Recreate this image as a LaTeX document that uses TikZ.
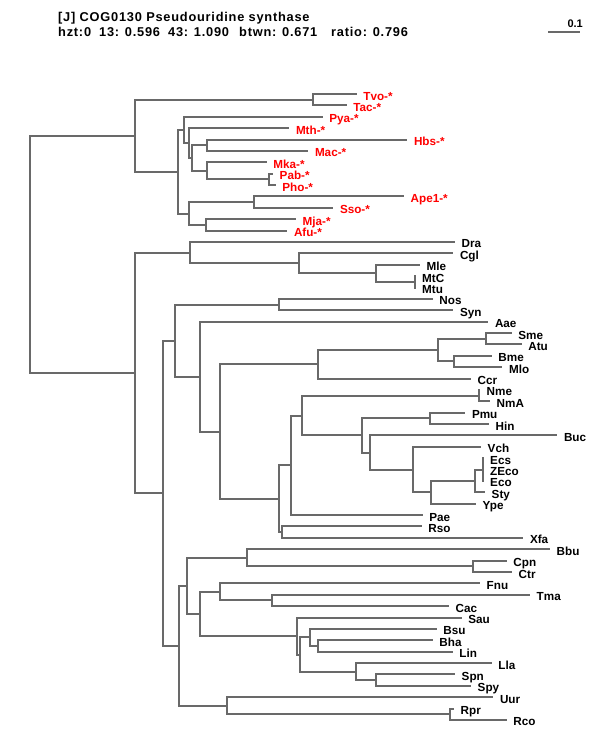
\documentclass[tikz,border=0pt]{standalone}
\usepackage{fontspec}
\setmainfont{Liberation Sans}
\newfontfamily\headfont[LetterSpace=6]{Liberation Sans}
\usetikzlibrary{positioning}
\definecolor{branchgray}{RGB}{105,105,105}
\tikzset{
  branch/.style = {draw=branchgray, line width=2pt},
  every edge/.style = {branch, to path={|- (\tikztotarget)}},
  leaf/.style = {anchor=west, inner xsep=6.5pt, inner ysep=0pt,
    text height=12pt, text depth=0pt,
    font=\bfseries\fontsize{11.7}{12}\selectfont},
  arch/.style = {leaf, text=red},
  head/.style = {anchor=base west, inner sep=0pt,
    font=\headfont\bfseries\fontsize{12.8}{14}\selectfont},
}

\begin{document}
\begin{tikzpicture}[x=1pt, y=-1pt]
  \useasboundingbox (0,0) rectangle (600,750);

  % header and scale
  \node [head] (title) at (58,21) {[J] COG0130 Pseudouridine synthase};
  \node [head] (hzt) at (58,36) {hzt:0};
  \node [head] (n13) at (99,36) {13: 0.596};
  \node [head] (n43) at (168,36) {43: 1.090};
  \node [head] (btwn) at (239,36) {btwn: 0.671};
  \node [head] (ratio) at (331,36) {ratio: 0.796};
  \coordinate (s0) at (548,32);
  \coordinate (s1) at (580,32);
  \draw [branch] (s0) -- (s1);
  \node [head, anchor=base east, font=\bfseries\fontsize{11}{12}\selectfont] (scale) at (583,27.5) {0.1};

  % archaea
  \node [arch] (Tvo) at (356.7,94.0) {Tvo-*};
  \node [arch] (Tac) at (346.7,105.4) {Tac-*};
  \node [arch] (Pya) at (322.7,116.8) {Pya-*};
  \node [arch] (Mth) at (289.3,128.1) {Mth-*};
  \node [arch] (Hbs) at (407.3,139.5) {Hbs-*};
  \node [arch] (Mac) at (308.3,150.9) {Mac-*};
  \node [arch] (Mka) at (266.7,162.3) {Mka-*};
  \node [arch] (Pab) at (273.0,173.7) {Pab-*};
  \node [arch] (Pho) at (275.7,185.0) {Pho-*};
  \node [arch] (Ape1) at (404.0,196.4) {Ape1-*};
  \node [arch] (Sso) at (333.3,207.8) {Sso-*};
  \node [arch] (Mja) at (296.0,219.2) {Mja-*};
  \node [arch] (Afu) at (287.3,230.6) {Afu-*};

  % bacteria
  \node [leaf] (Dra) at (455.0,241.9) {Dra};
  \node [leaf] (Cgl) at (453.3,253.3) {Cgl};
  \node [leaf] (Mle) at (420.0,264.7) {Mle};
  \node [leaf] (MtC) at (415.5,276.1) {MtC};
  \node [leaf] (Mtu) at (415.5,287.5) {Mtu};
  \node [leaf] (Nos) at (432.7,298.8) {Nos};
  \node [leaf] (Syn) at (453.3,310.2) {Syn};
  \node [leaf] (Aae) at (488.3,321.6) {Aae};
  \node [leaf] (Sme) at (511.7,333.0) {Sme};
  \node [leaf] (Atu) at (521.7,344.4) {Atu};
  \node [leaf] (Bme) at (491.7,355.7) {Bme};
  \node [leaf] (Mlo) at (502.3,367.1) {Mlo};
  \node [leaf] (Ccr) at (471.0,378.5) {Ccr};
  \node [leaf] (Nme) at (480.0,389.9) {Nme};
  \node [leaf] (NmA) at (490.0,401.3) {NmA};
  \node [leaf] (Pmu) at (465.3,412.6) {Pmu};
  \node [leaf] (Hin) at (489.0,424.0) {Hin};
  \node [leaf] (Buc) at (557.3,435.4) {Buc};
  \node [leaf] (Vch) at (481.0,446.8) {Vch};
  \node [leaf] (Ecs) at (483.5,458.2) {Ecs};
  \node [leaf] (ZEco) at (483.5,469.5) {ZEco};
  \node [leaf] (Eco) at (483.5,480.9) {Eco};
  \node [leaf] (Sty) at (485.0,492.3) {Sty};
  \node [leaf] (Ype) at (476.0,503.7) {Ype};
  \node [leaf] (Pae) at (422.7,515.1) {Pae};
  \node [leaf] (Rso) at (421.7,526.4) {Rso};
  \node [leaf] (Xfa) at (523.3,537.8) {Xfa};
  \node [leaf] (Bbu) at (550.0,549.2) {Bbu};
  \node [leaf] (Cpn) at (506.7,560.6) {Cpn};
  \node [leaf] (Ctr) at (512.0,572.0) {Ctr};
  \node [leaf] (Fnu) at (480.0,583.3) {Fnu};
  \node [leaf] (Tma) at (530.0,594.7) {Tma};
  \node [leaf] (Cac) at (449.0,606.1) {Cac};
  \node [leaf] (Sau) at (461.7,617.5) {Sau};
  \node [leaf] (Bsu) at (436.7,628.9) {Bsu};
  \node [leaf] (Bha) at (432.7,640.2) {Bha};
  \node [leaf] (Lin) at (452.7,651.6) {Lin};
  \node [leaf] (Lla) at (491.7,663.0) {Lla};
  \node [leaf] (Spn) at (455.0,674.4) {Spn};
  \node [leaf] (Spy) at (471.0,685.8) {Spy};
  \node [leaf] (Uur) at (493.3,697.1) {Uur};
  \node [leaf] (Rpr) at (454.0,708.5) {Rpr};
  \node [leaf] (Rco) at (506.7,719.9) {Rco};

  % inner nodes, archaea
  \coordinate (root) at (30,254.3);
  \coordinate (arc) at (134.7,135.7);
  \coordinate (tvotac) at (313,99.7);
  \coordinate (arc1) at (177.7,171.7);
  \coordinate (arc2) at (183.7,129.9);
  \coordinate (arc3) at (188.7,143.05);
  \coordinate (arc4) at (192,158.0);
  \coordinate (hbsmac) at (207.3,145.2);
  \coordinate (mkap) at (207.3,170.8);
  \coordinate (pabpho) at (269.3,179.35);
  \coordinate (arc6) at (188.7,213.5);
  \coordinate (apesso) at (254.3,202.1);
  \coordinate (mjaafu) at (206,224.9);

  % inner nodes, bacteria
  \coordinate (bact) at (134.7,372.85);
  \coordinate (dracgl) at (190,252.6);
  \coordinate (cglm) at (299,263.3);
  \coordinate (myco) at (376,273.25);
  \coordinate (mtb) at (415,281.8);
  \coordinate (bac1) at (162.7,493.1);
  \coordinate (bac2) at (174.7,340.5);
  \coordinate (nossyn) at (279,304.5);
  \coordinate (bac3) at (200,376.55);
  \coordinate (bac4) at (219.7,431.5);
  \coordinate (alpha) at (317.7,364.3);
  \coordinate (rhizo) at (437.7,350.05);
  \coordinate (smeatu) at (486,338.7);
  \coordinate (bmemlo) at (454,361.4);
  \coordinate (bac5) at (279,498.7);
  \coordinate (bac6) at (290.7,465.3);
  \coordinate (bac7) at (301.7,415.5);
  \coordinate (neis) at (479,395.6);
  \coordinate (bac8) at (362.3,435.4);
  \coordinate (pmuhin) at (430,418.3);
  \coordinate (bac9) at (370,452.5);
  \coordinate (bac10) at (412.7,469.55);
  \coordinate (bac11) at (431,492.3);
  \coordinate (bac12) at (475,480.9);
  \coordinate (ecoli) at (483,469.5);
  \coordinate (rsoxfa) at (282,532.1);
  \coordinate (bac13) at (178.7,645.7);
  \coordinate (bac14) at (187,585.8);
  \coordinate (bbuchl) at (247,557.75);
  \coordinate (chl) at (473.3,566.3);
  \coordinate (bac15) at (199.7,613.9);
  \coordinate (fnutma) at (220,591.85);
  \coordinate (tmacac) at (271.7,600.4);
  \coordinate (firm) at (296.7,636.0);
  \coordinate (bac17) at (300.3,654.5);
  \coordinate (bsubha) at (310,637.4);
  \coordinate (bhalin) at (317.7,645.9);
  \coordinate (llastr) at (356,671.55);
  \coordinate (spnspy) at (376,680.1);
  \coordinate (uurric) at (227,705.65);
  \coordinate (rprrco) at (450,714.2);

  % branches
  \draw (root) edge (arc) edge (bact);
  \draw (arc) edge (tvotac) edge (arc1);
  \draw (tvotac) edge (Tvo) edge (Tac);
  \draw (arc1) edge (arc2) edge (arc6);
  \draw (arc2) edge (Pya) edge (arc3);
  \draw (arc3) edge (Mth) edge (arc4);
  \draw (arc4) edge (hbsmac) edge (mkap);
  \draw (hbsmac) edge (Hbs) edge (Mac);
  \draw (mkap) edge (Mka) edge (pabpho);
  \draw (pabpho) edge (Pab) edge (Pho);
  \draw (arc6) edge (apesso) edge (mjaafu);
  \draw (apesso) edge (Ape1) edge (Sso);
  \draw (mjaafu) edge (Mja) edge (Afu);

  \draw (bact) edge (dracgl) edge (bac1);
  \draw (dracgl) edge (Dra) edge (cglm);
  \draw (cglm) edge (Cgl) edge (myco);
  \draw (myco) edge (Mle) edge (mtb);
  \draw (mtb) edge (MtC) edge (Mtu);
  \draw (bac1) edge (bac2) edge (bac13);
  \draw (bac2) edge (nossyn) edge (bac3);
  \draw (nossyn) edge (Nos) edge (Syn);
  \draw (bac3) edge (Aae) edge (bac4);
  \draw (bac4) edge (alpha) edge (bac5);
  \draw (alpha) edge (rhizo) edge (Ccr);
  \draw (rhizo) edge (smeatu) edge (bmemlo);
  \draw (smeatu) edge (Sme) edge (Atu);
  \draw (bmemlo) edge (Bme) edge (Mlo);
  \draw (bac5) edge (bac6) edge (rsoxfa);
  \draw (bac6) edge (bac7) edge (Pae);
  \draw (bac7) edge (neis) edge (bac8);
  \draw (neis) edge (Nme) edge (NmA);
  \draw (bac8) edge (pmuhin) edge (bac9);
  \draw (pmuhin) edge (Pmu) edge (Hin);
  \draw (bac9) edge (Buc) edge (bac10);
  \draw (bac10) edge (Vch) edge (bac11);
  \draw (bac11) edge (bac12) edge (Ype);
  \draw (bac12) edge (ecoli) edge (Sty);
  \draw (ecoli) edge (Ecs) edge (ZEco) edge (Eco);
  \draw (rsoxfa) edge (Rso) edge (Xfa);
  \draw (bac13) edge (bac14) edge (uurric);
  \draw (bac14) edge (bbuchl) edge (bac15);
  \draw (bbuchl) edge (Bbu) edge (chl);
  \draw (chl) edge (Cpn) edge (Ctr);
  \draw (bac15) edge (fnutma) edge (firm);
  \draw (fnutma) edge (Fnu) edge (tmacac);
  \draw (tmacac) edge (Tma) edge (Cac);
  \draw (firm) edge (Sau) edge (bac17);
  \draw (bac17) edge (bsubha) edge (llastr);
  \draw (bsubha) edge (Bsu) edge (bhalin);
  \draw (bhalin) edge (Bha) edge (Lin);
  \draw (llastr) edge (Lla) edge (spnspy);
  \draw (spnspy) edge (Spn) edge (Spy);
  \draw (uurric) edge (Uur) edge (rprrco);
  \draw (rprrco) edge (Rpr) edge (Rco);
\end{tikzpicture}
\end{document}
